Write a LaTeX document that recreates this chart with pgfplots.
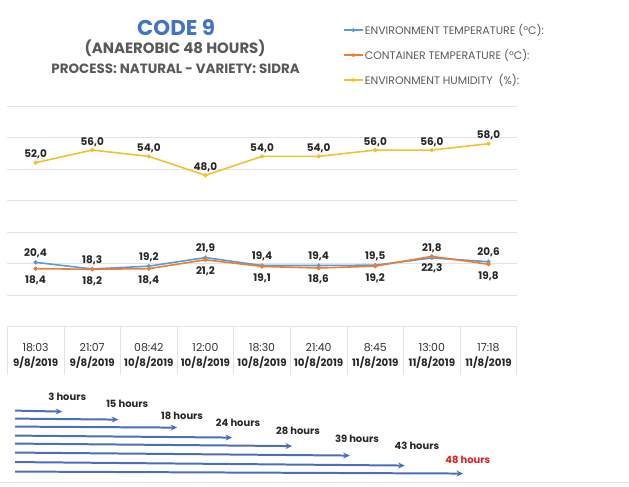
\documentclass[border=0pt]{standalone}
\usepackage{pgfplots}
\pgfplotsset{compat=1.18}
\usepackage{fontspec}
\setmainfont{Poppins}
\usetikzlibrary{arrows.meta}
\definecolor{envT}{HTML}{5B9BD5}
\definecolor{conT}{HTML}{ED7D31}
\definecolor{hum}{HTML}{F2C12E}
\definecolor{titleblue}{HTML}{4472C4}
\definecolor{txtgray}{HTML}{595959}
\definecolor{arrowblue}{HTML}{4A6FBA}
\definecolor{gridgray}{HTML}{E3E3E3}
\definecolor{lblred}{HTML}{E02020}

\begin{document}
\begin{tikzpicture}[x=1bp,y=1bp]
\path (0,0) rectangle (629,-487);
% titles
\node[font=\bfseries\fontsize{21.5}{21.5}\selectfont, text=titleblue] at (176,-28) {CODE 9};
\node[font=\bfseries\fontsize{15}{15}\selectfont, text=txtgray] at (175,-48) {(ANAEROBIC 48 HOURS)};
\node[font=\bfseries\fontsize{13.5}{13.5}\selectfont, text=txtgray] at (175.5,-69) {PROCESS: NATURAL - VARIETY: SIDRA};

% main chart
\begin{axis}[
  at={(7bp,-327bp)}, anchor=south west, scale only axis,
  width=510bp, height=221bp,
  xmin=-0.5, xmax=8.5, ymin=0, ymax=70,
  xtick=\empty, ytick={10,20,...,70}, yticklabels={}, major tick length=0pt,
  ymajorgrids, grid style={gridgray, line width=0.8pt},
  axis line style={draw=none},
  clip=false,
  /pgf/number format/.cd, fixed, fixed zerofill, precision=1, use comma, assume math mode=true,
  /pgfplots/.cd,
  legend style={at={(0.659,1.380)}, anchor=north west, draw=none, fill=none,
    font=\fontsize{11}{11}\selectfont, text=txtgray, row sep=9.3bp,
    inner sep=0pt, nodes={inner xsep=1.5bp}},
  legend cell align=left,
  legend image code/.code={
    \draw[#1, line width=1.2pt] (0bp,0bp) -- (19bp,0bp);
    \draw[#1, mark size=1pt] plot coordinates {(9.5bp,0bp)};},
  every axis plot/.append style={line width=1.6pt, mark=*, mark size=1.3pt},
  nodes near coords,
  every node near coord/.append style={font=\bfseries\fontsize{10.5}{10.5}\selectfont, text=black!85},
]
\addplot[envT, nodes near coords align={anchor=south}, every node near coord/.append style={yshift=0.5bp}] coordinates {
 (0,20.4) (1,18.3) (2,19.2) (3,21.9) (4,19.4) (5,19.4) (6,19.5) (7,21.8) (8,20.6)};
\addlegendentry{ENVIRONMENT TEMPERATURE (ºC):}
\addplot[conT, nodes near coords align={anchor=north}, every node near coord/.append style={yshift=-3bp}] coordinates {
 (0,18.4) (1,18.2) (2,18.4) (3,21.2) (4,19.1) (5,18.6) (6,19.2) (7,22.3) (8,19.8)};
\addlegendentry{CONTAINER TEMPERATURE (ºC):}
\addplot[hum, nodes near coords align={anchor=south}, every node near coord/.append style={yshift=-0.5bp}] coordinates {
 (0,52.0) (1,56.0) (2,54.0) (3,48.0) (4,54.0) (5,54.0) (6,56.0) (7,56.0) (8,58.0)};
\addlegendentry{ENVIRONMENT HUMIDITY\ \ (\%):}
\end{axis}

% table of times
\begin{axis}[
  at={(7bp,-327bp)}, anchor=north west, scale only axis,
  width=510bp, height=48bp,
  xmin=-0.5, xmax=8.5, ymin=0, ymax=48,
  xtick={-0.5,0.5,...,8.5}, xticklabels={}, ytick={48}, yticklabels={}, major tick length=0pt,
  xmajorgrids, ymajorgrids, grid style={gridgray, line width=0.8pt},
  axis line style={draw=none}, clip=false,
]
\addplot[draw=none] coordinates {(0,0)};
\begin{scope}[every node/.style={font=\fontsize{11}{11}\selectfont, text=black!80}]
\node at (axis cs:0,27) {18:03};
\node at (axis cs:1,27) {21:07};
\node at (axis cs:2,27) {08:42};
\node at (axis cs:3,27) {12:00};
\node at (axis cs:4,27) {18:30};
\node at (axis cs:5,27) {21:40};
\node at (axis cs:6,27) {8:45};
\node at (axis cs:7,27) {13:00};
\node at (axis cs:8,27) {17:18};
\end{scope}
\begin{scope}[every node/.style={font=\bfseries\fontsize{10.3}{10.3}\selectfont, text=black!85}]
\node at (axis cs:0,12) {9/8/2019};
\node at (axis cs:1,12) {9/8/2019};
\node at (axis cs:2,12) {10/8/2019};
\node at (axis cs:3,12) {10/8/2019};
\node at (axis cs:4,12) {10/8/2019};
\node at (axis cs:5,12) {10/8/2019};
\node at (axis cs:6,12) {11/8/2019};
\node at (axis cs:7,12) {11/8/2019};
\node at (axis cs:8,12) {11/8/2019};
\end{scope}
\end{axis}

% duration arrows
\begin{axis}[
  at={(7bp,-380bp)}, anchor=north west, scale only axis,
  width=510bp, height=107bp,
  xmin=-0.5, xmax=8.5, ymin=380, ymax=487, y dir=reverse,
  hide axis, clip=false,
  every axis plot/.style={line width=2pt, -{Stealth[length=6.5bp,width=6bp]}},
]
\addplot+[draw=arrowblue, solid, mark=none] coordinates {(-0.36,411) (0.47,412)};
\addplot+[draw=arrowblue, solid, mark=none] coordinates {(-0.36,419) (1.46,420)};
\addplot+[draw=arrowblue, solid, mark=none] coordinates {(-0.36,427) (2.50,428)};
\addplot+[draw=arrowblue, solid, mark=none] coordinates {(-0.36,436) (3.47,438)};
\addplot+[draw=arrowblue, solid, mark=none] coordinates {(-0.36,444) (4.53,446.5)};
\addplot+[draw=arrowblue, solid, mark=none] coordinates {(-0.36,453) (5.55,456)};
\addplot+[draw=arrowblue, solid, mark=none] coordinates {(-0.36,462.5) (6.52,466)};
\addplot+[draw=arrowblue, solid, mark=none] coordinates {(-0.36,472) (7.55,474)};
\begin{scope}[every node/.style={font=\bfseries\fontsize{10}{10}\selectfont, text=black!85}]
\node at (axis cs:0.559,397) {3 hours};
\node at (axis cs:1.618,404) {15 hours};
\node at (axis cs:2.588,416) {18 hours};
\node at (axis cs:3.576,423) {24 hours};
\node at (axis cs:4.635,431) {28 hours};
\node at (axis cs:5.676,439) {39 hours};
\node at (axis cs:6.735,446) {43 hours};
\node[text=lblred] at (axis cs:7.635,460) {48 hours};
\end{scope}
\end{axis}
\draw[gridgray, line width=0.6pt] (0,-483) -- (629,-483);
\end{tikzpicture}
\end{document}
